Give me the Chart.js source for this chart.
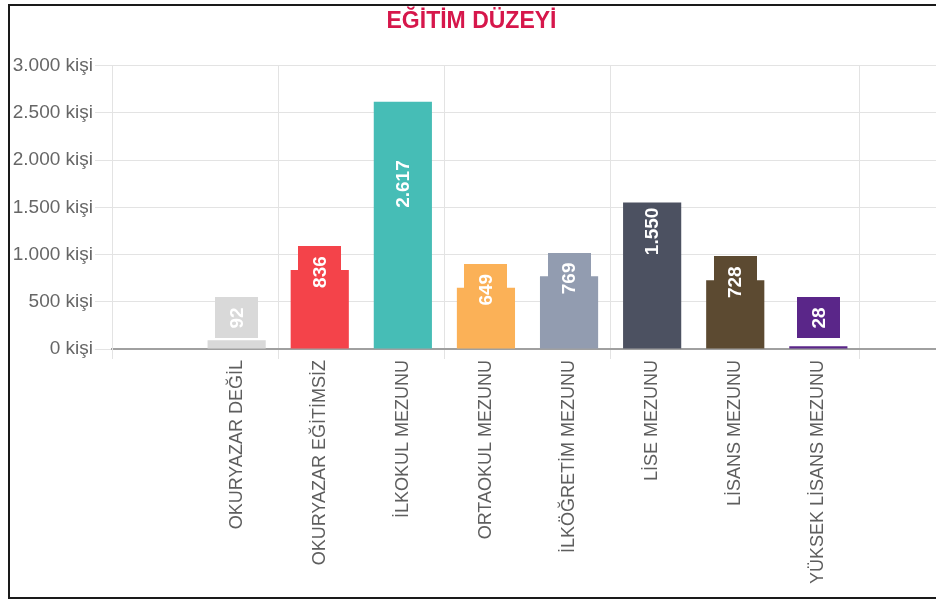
<!DOCTYPE html>
<html>
<head>
<meta charset="utf-8">
<title>Eğitim Düzeyi</title>
<script src="https://cdn.jsdelivr.net/npm/chart.js@4.4.1/dist/chart.umd.min.js"></script>
<style>
  html, body { margin: 0; padding: 0; background: #fff; overflow: hidden; }
  #wrap { position: absolute; left: 0; top: 0; width: 943px; height: 601px; }
  #frame {
    position: absolute; left: 8px; top: 4px; width: 1000px; height: 591px;
    border: 2px solid #1a1a1a; border-right: none; pointer-events: none;
  }
</style>
</head>
<body>
<div id="wrap"><canvas id="chart" width="943" height="601"></canvas></div>
<div id="frame"></div>
<script>
// data
const categories = ['', 'OKURYAZAR DEĞİL', 'OKURYAZAR EĞİTİMSİZ', 'İLKOKUL MEZUNU', 'ORTAOKUL MEZUNU',
  'İLKÖĞRETİM MEZUNU', 'LİSE MEZUNU', 'LİSANS MEZUNU', 'YÜKSEK LİSANS MEZUNU', ''];
const people = [null, 92, 836, 2617, 649, 769, 1550, 728, 28, null];
const barColors = [null, '#d9d9d9', '#f4434a', '#46bdb6', '#fbb157', '#929cb0', '#4c5161', '#5c4a31', '#5a2689', null];
const yTicks = [0, 500, 1000, 1500, 2000, 2500, 3000];

// grid lines shown only at these category boundaries (like the original)
const shownGrid = [0, 2, 4, 6, 9];

function fmt(n) {
  return String(n).replace(/\B(?=(\d{3})+(?!\d))/g, '.');
}

// value labels: rotated text on a box of the bar colour
const valueLabels = {
  id: 'valueLabels',
  afterDatasetsDraw(chart) {
    const ctx = chart.ctx;
    const meta = chart.getDatasetMeta(0);
    ctx.save();
    ctx.font = 'bold 19px "Liberation Sans", Arial, sans-serif';
    ctx.textAlign = 'center';
    ctx.textBaseline = 'middle';
    meta.data.forEach(function(bar, i) {
      const v = people[i];
      if (v == null) return;
      const text = fmt(v);
      const tw = ctx.measureText(text).width;
      const boxH = tw + 20, boxW = 43;
      const h = bar.base - bar.y;
      let cy;
      if (h > 120) {
        cy = bar.y + h * h / 740;
      } else {
        cy = Math.min(bar.y + 2, bar.base - 10 - boxH / 2);
        ctx.fillStyle = barColors[i];
        ctx.fillRect(Math.round(bar.x - boxW / 2), Math.round(cy - boxH / 2), boxW, Math.round(boxH));
      }
      ctx.save();
      ctx.translate(bar.x, cy);
      ctx.rotate(-Math.PI / 2);
      ctx.fillStyle = '#ffffff';
      ctx.fillText(text, 0, 1);
      ctx.restore();
    });
    ctx.restore();
  }
};

const ctx = document.getElementById('chart').getContext('2d');
new Chart(ctx, {
  type: 'bar',
  data: {
    labels: categories,
    datasets: [{
      label: 'Kişi',
      data: people,
      backgroundColor: barColors,
      borderWidth: 0,
      barPercentage: 0.7,
      categoryPercentage: 1
    }]
  },
  options: {
    responsive: false,
    animation: false,
    layout: { padding: 0 },
    plugins: {
      legend: { display: false },
      tooltip: { enabled: false },
      title: {
        display: true,
        text: 'EĞİTİM DÜZEYİ',
        color: '#d6174b',
        font: { family: '"Liberation Sans", Arial, sans-serif', size: 23, weight: 'bold' },
        padding: { top: 8, bottom: 30 }
      }
    },
    scales: {
      x: {
        offset: true,
        grid: {
          offset: true,
          color: function(c) { return shownGrid.includes(c.index) ? '#e3e3e3' : 'rgba(0,0,0,0)'; },
          tickLength: 10
        },
        border: { color: '#a0a0a0', width: 2 },
        ticks: {
          autoSkip: false,
          minRotation: 90,
          maxRotation: 90,
          padding: 1,
          color: '#5e5e5e',
          font: { family: '"Liberation Sans", Arial, sans-serif', size: 18 }
        },
        afterFit: function(scale) { scale.height = 252; }
      },
      y: {
        min: 0,
        max: 3000,
        afterBuildTicks: function(scale) { scale.ticks = yTicks.map(v => ({ value: v })); },
        grid: { color: '#e3e3e3', tickLength: 17 },
        border: { color: '#e3e3e3' },
        ticks: {
          padding: 2,
          color: '#666',
          font: { family: '"Liberation Sans", Arial, sans-serif', size: 19 },
          callback: function(v) { return fmt(v) + ' kişi'; }
        },
        afterFit: function(scale) { scale.width = 112; }
      }
    }
  },
  plugins: [valueLabels]
});
</script>
</body>
</html>
